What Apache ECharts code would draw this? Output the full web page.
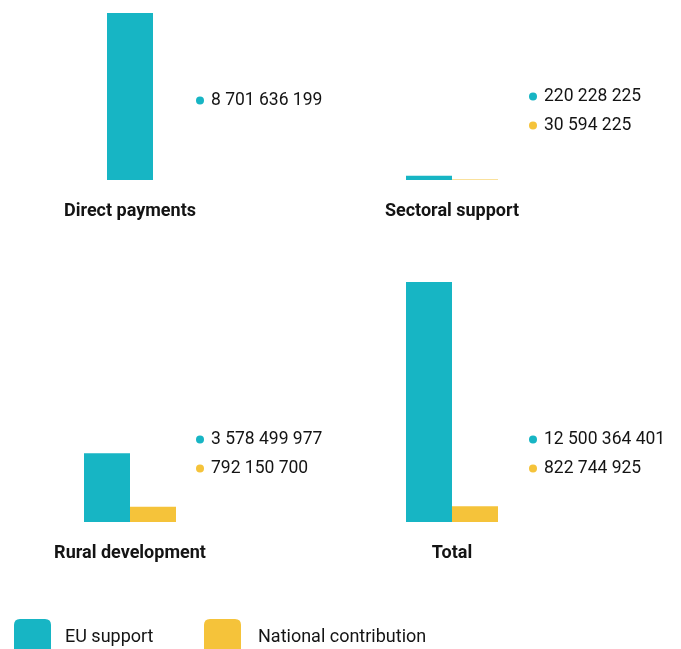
<!DOCTYPE html>
<html>
<head>
<meta charset="utf-8">
<script src="https://cdn.jsdelivr.net/npm/echarts@6/dist/echarts.min.js"></script>
<style>
  html, body { margin: 0; padding: 0; background: #ffffff; }
  #chart { width: 681px; height: 649px; }
</style>
</head>
<body>
<div id="chart"></div>
<script>
// ---- data ----
const categories = ['Direct payments', 'Sectoral support', 'Rural development', 'Total'];
const seriesNames = ['EU support', 'National contribution'];
const euSupport = [8701636199, 220228225, 3578499977, 12500364401];
const nationalContribution = [null, 30594225, 792150700, 822744925];

// ---- style / layout ----
const TEAL = '#17B5C4';
const YELLOW = '#F5C33A';
const TEXT = '#141414';
const FONT = 'Roboto';
const PX_PER_UNIT = 19.2e-9;           // shared vertical scale of all panels
const panelLeft = [84, 406, 84, 406];
const panelBase = [180, 180, 522, 522];
const panelMax = [9e9, 9e9, 13e9, 13e9];
const labelLeft = [196, 529, 196, 529];
const labelTop = [86, 82, 425, 425];

function fmt(n) {
  return String(n).replace(/\B(?=(\d{3})+(?!\d))/g, ' ');
}

const grids = [], xAxes = [], yAxes = [], series = [], titles = [];
categories.forEach((cat, i) => {
  const h = panelMax[i] * PX_PER_UNIT;
  grids.push({ left: panelLeft[i], width: 92, top: panelBase[i] - h, height: h });
  xAxes.push({
    type: 'category', gridIndex: i, data: [cat],
    axisLine: { show: false }, axisTick: { show: false }, splitLine: { show: false },
    axisLabel: { margin: 22, fontSize: 18, fontWeight: 'bold', fontFamily: FONT, color: TEXT }
  });
  yAxes.push({ type: 'value', gridIndex: i, min: 0, max: panelMax[i], show: false, splitLine: { show: false } });
  series.push({
    type: 'bar', name: seriesNames[0], xAxisIndex: i, yAxisIndex: i,
    data: [euSupport[i]], barWidth: 46, barGap: '0%', itemStyle: { color: TEAL }, silent: true
  });
  const lines = ['{eu|}{v|' + fmt(euSupport[i]) + '}'];
  if (nationalContribution[i] != null) {
    series.push({
      type: 'bar', name: seriesNames[1], xAxisIndex: i, yAxisIndex: i,
      data: [nationalContribution[i]], barWidth: 46, barGap: '0%', itemStyle: { color: YELLOW }, silent: true
    });
    lines.push('{nc|}{v|' + fmt(nationalContribution[i]) + '}');
  }
  titles.push({
    left: labelLeft[i], top: labelTop[i], padding: 0,
    text: lines.join('\n'),
    textStyle: {
      lineHeight: 29,
      rich: {
        eu: { width: 8, height: 8, borderRadius: 4, backgroundColor: TEAL, verticalAlign: 'middle' },
        nc: { width: 8, height: 8, borderRadius: 4, backgroundColor: YELLOW, verticalAlign: 'middle' },
        v: { fontSize: 17.5, fontFamily: FONT, fontWeight: 'normal', color: TEXT, padding: [0, 0, 0, 7], lineHeight: 29, verticalAlign: 'middle' }
      }
    }
  });
});

const icon = 'path://M6,0H31Q37,0 37,6V31Q37,37 31,37H6Q0,37 0,31V6Q0,0 6,0Z';
const legendStyle1 = { fontSize: 18, fontFamily: FONT, color: TEXT, padding: [4, 0, 0, 9] };
const legendStyle2 = { fontSize: 18, fontFamily: FONT, color: TEXT, padding: [4, 0, 0, 12] };

const chart = echarts.init(document.getElementById('chart'), null, { renderer: 'canvas' });
chart.setOption({
  animation: false,
  backgroundColor: '#ffffff',
  title: titles,
  legend: [
    { left: 14, top: 619, padding: 0, itemWidth: 37, itemHeight: 37, icon: icon, data: [seriesNames[0]], textStyle: legendStyle1, selectedMode: false },
    { left: 204, top: 619, padding: 0, itemWidth: 37, itemHeight: 37, icon: icon, data: [seriesNames[1]], textStyle: legendStyle2, selectedMode: false }
  ],
  grid: grids,
  xAxis: xAxes,
  yAxis: yAxes,
  series: series
});
</script>
</body>
</html>
